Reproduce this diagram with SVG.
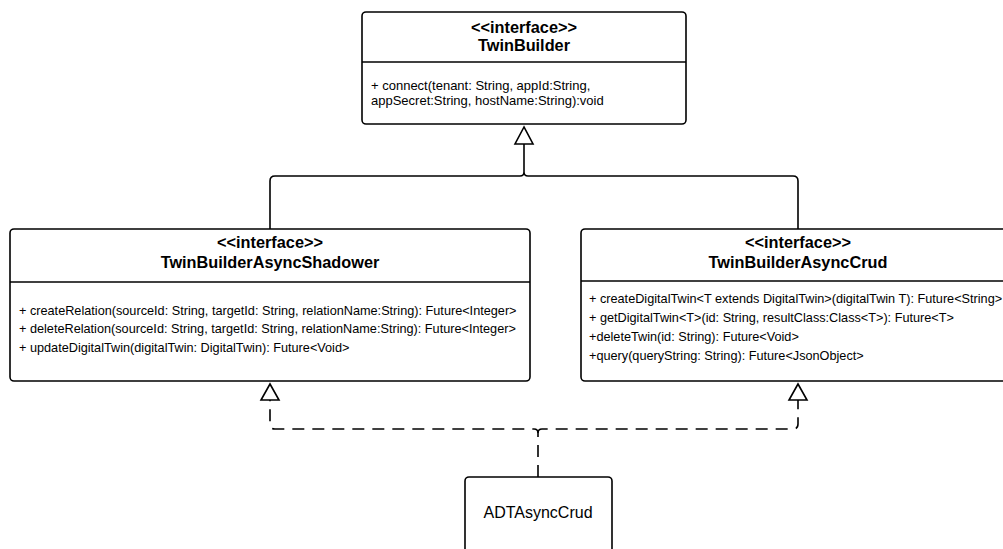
<svg xmlns="http://www.w3.org/2000/svg" width="1003" height="549" viewBox="0 0 1003 549">
  <style>
    .box { fill: #ffffff; stroke: #000000; stroke-width: 1.6; }
    .div { stroke: #000000; stroke-width: 1.6; fill: none; }
    .title { font-family: "Liberation Sans", Arial, sans-serif; font-size: 16.3px; font-weight: bold; fill: #000000; text-anchor: middle; }
    .member { font-family: "Liberation Sans", Arial, sans-serif; font-size: 12.7px; fill: #000000; }
    .member-top { font-family: "Liberation Sans", Arial, sans-serif; font-size: 13px; fill: #000000; }
    .label { font-family: "Liberation Sans", Arial, sans-serif; font-size: 16px; fill: #000000; text-anchor: middle; }
    .edge { fill: none; stroke: #000000; stroke-width: 1.6; }
    .dashed { stroke-dasharray: 12 8; }
    .head { fill: #ffffff; stroke: #000000; stroke-width: 1.6; stroke-linejoin: miter; }
  </style>

  <!-- connectors -->
  <g id="connectors">
    <!-- generalization: both async interfaces extend TwinBuilder -->
    <path class="edge" d="M270 229 V181 Q270 176 275 176 H520 Q524 176 524 172 Q524 176 528 176 H793 Q798 176 798 181 V229"/>
    <path class="edge" d="M524 172 V144"/>
    <polygon class="head" points="524,127 515,144 533,144"/>

    <!-- realization: ADTAsyncCrud implements both async interfaces -->
    <path class="edge dashed" d="M538 477 V433 Q538 429 534 429 H275 Q270 429 270 424 V400"/>
    <path class="edge dashed" d="M538 433 Q538 429 542 429 H793 Q798 429 798 424 V400"/>
    <polygon class="head" points="270,384 261,400 279,400"/>
    <polygon class="head" points="798,384 789,400 807,400"/>
  </g>

  <!-- TwinBuilder -->
  <g id="twin-builder">
    <rect class="box" x="362" y="12" width="324" height="112" rx="4"/>
    <line class="div" x1="362" y1="62" x2="686" y2="62"/>
    <text class="title" x="524" y="33">&lt;&lt;interface&gt;&gt;</text>
    <text class="title" x="524" y="51">TwinBuilder</text>
    <text class="member-top" x="371" y="90">+ connect(tenant: String, appId:String,</text>
    <text class="member-top" x="371" y="105">appSecret:String, hostName:String):void</text>
  </g>

  <!-- TwinBuilderAsyncShadower -->
  <g id="twin-builder-async-shadower">
    <rect class="box" x="10" y="229" width="520" height="152" rx="4"/>
    <line class="div" x1="10" y1="282" x2="530" y2="282"/>
    <text class="title" x="270" y="248">&lt;&lt;interface&gt;&gt;</text>
    <text class="title" x="270" y="268">TwinBuilderAsyncShadower</text>
    <text class="member" x="19" y="315">+ createRelation(sourceId: String, targetId: String, relationName:String): Future&lt;Integer&gt;</text>
    <text class="member" x="19" y="333">+ deleteRelation(sourceId: String, targetId: String, relationName:String): Future&lt;Integer&gt;</text>
    <text class="member" x="19" y="352">+ updateDigitalTwin(digitalTwin: DigitalTwin): Future&lt;Void&gt;</text>
  </g>

  <!-- TwinBuilderAsyncCrud -->
  <g id="twin-builder-async-crud">
    <rect class="box" x="581" y="229" width="440" height="152" rx="4"/>
    <line class="div" x1="581" y1="281" x2="1021" y2="281"/>
    <text class="title" x="798" y="248">&lt;&lt;interface&gt;&gt;</text>
    <text class="title" x="798" y="268">TwinBuilderAsyncCrud</text>
    <text class="member" x="589" y="303">+ createDigitalTwin&lt;T extends DigitalTwin&gt;(digitalTwin T): Future&lt;String&gt;</text>
    <text class="member" x="589" y="322">+ getDigitalTwin&lt;T&gt;(id: String, resultClass:Class&lt;T&gt;): Future&lt;T&gt;</text>
    <text class="member" x="589" y="341">+deleteTwin(id: String): Future&lt;Void&gt;</text>
    <text class="member" x="589" y="360">+query(queryString: String): Future&lt;JsonObject&gt;</text>
  </g>

  <!-- ADTAsyncCrud -->
  <g id="adt-async-crud">
    <rect class="box" x="465" y="477" width="147" height="90" rx="4"/>
    <text class="label" x="538" y="518">ADTAsyncCrud</text>
  </g>
</svg>
